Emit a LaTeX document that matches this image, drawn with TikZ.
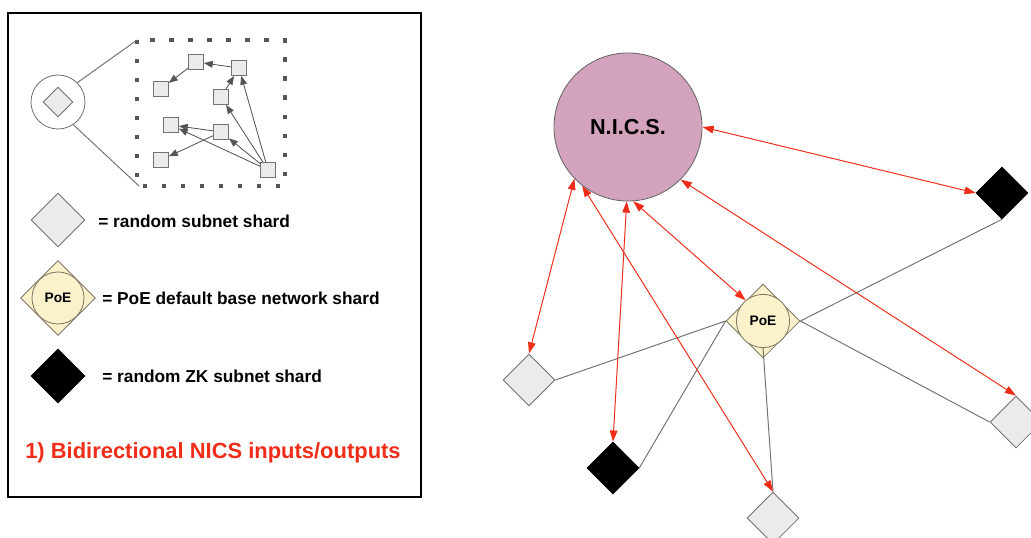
\documentclass[tikz,border=0pt]{standalone}
\usepackage{fontspec}
\setmainfont{Liberation Sans}
\usetikzlibrary{positioning,arrows.meta,shapes.geometric}
\definecolor{shardgray}{RGB}{235,235,235}
\definecolor{edgegray}{RGB}{115,115,115}
\definecolor{poeyellow}{RGB}{251,242,204}
\definecolor{poeedge}{RGB}{125,120,100}
\definecolor{nicspink}{RGB}{211,163,189}
\definecolor{iored}{RGB}{240,45,25}
\definecolor{dotgray}{RGB}{85,85,85}
\tikzset{
  shard/.style={diamond, draw=edgegray, fill=shardgray, line width=0.6pt, minimum size=1.3cm, inner sep=0pt},
  zkshard/.style={diamond, draw=black, fill=black, minimum size=1.3cm, inner sep=0pt},
  poediamond/.style={diamond, draw=poeedge, fill=poeyellow, line width=0.6pt, minimum size=1.85cm, inner sep=0pt},
  poecircle/.style={circle, draw=poeedge, fill=poeyellow, line width=0.6pt, minimum size=1.33cm, inner sep=0pt,
                    font=\fontsize{9.8}{11}\selectfont\bfseries},
  nicscircle/.style={circle, draw=gray!80!black, fill=nicspink, line width=0.6pt, minimum size=3.7cm,
                     font=\fontsize{15.4}{18}\selectfont\bfseries},
  mini/.style={rectangle, draw=edgegray, fill=shardgray, line width=0.6pt, minimum size=0.375cm, inner sep=0pt},
  minilink/.style={->, draw=dotgray, line width=0.6pt, >={Triangle[length=0.22cm, width=0.17cm]}},
  link/.style={draw=edgegray, line width=0.7pt},
  io/.style={<->, draw=iored, line width=0.7pt, >={Triangle[length=0.28cm, width=0.19cm]}},
  legtext/.style={anchor=west, inner sep=0pt, font=\fontsize{12.3}{14}\selectfont\bfseries},
}

\begin{document}
\begin{tikzpicture}[x=0.025cm, y=-0.025cm]
  \useasboundingbox (0,0) rectangle (1031,538);

  % legend panel
  \draw[line width=2pt] (8,13) rectangle (421,497);
  \node[circle, draw=edgegray, line width=0.6pt, minimum size=1.35cm] (icon) at (58,102) {};
  \node[shard, minimum size=0.75cm] (icond) at (58,102) {};
  \draw[dotgray, line width=0.11cm, dash pattern=on 0.11cm off 0.365cm] (137,40) rectangle (285,186);
  \coordinate (boxtl) at (137,40);
  \coordinate (boxbl) at (139,186);
  \draw[link] (icon.45) -- (boxtl);
  \draw[link] (icon.-56) -- (boxbl);

  \node[mini] (s1) at (196,62) {};
  \node[mini] (s2) at (239,68) {};
  \node[mini] (s3) at (161,89) {};
  \node[mini] (s4) at (221,97) {};
  \node[mini] (s5) at (171,125) {};
  \node[mini] (s6) at (221,132) {};
  \node[mini] (s7) at (161,160) {};
  \node[mini] (s8) at (268,170) {};
  \draw[minilink] (s2) -- (s1);
  \draw[minilink] (s1) -- (s3);
  \draw[minilink] (s4) -- (s2);
  \draw[minilink] (s8) -- (s2);
  \draw[minilink] (s8) -- (s4);
  \draw[minilink] (s8) -- (s6);
  \draw[minilink] (s8) -- (s5);
  \draw[minilink] (s6) -- (s5);
  \draw[minilink] (s6) -- (s7);

  \node[shard, minimum size=1.35cm] (leg1) at (58,220) {};
  \node[legtext] (leg1t) at (98,221) {= random subnet shard};
  \node[poediamond, minimum size=1.875cm] (leg2) at (58,298) {};
  \node[poecircle, minimum size=1.3cm] (leg2c) at (58,298) {PoE};
  \node[legtext] (leg2t) at (102,298) {= PoE default base network shard};
  \node[zkshard, minimum size=1.35cm] (leg3) at (58,376) {};
  \node[legtext] (leg3t) at (102,376) {= random ZK subnet shard};
  \node[anchor=west, inner sep=0pt, text=iored, font=\fontsize{15.6}{18}\selectfont\bfseries] (caption) at (25,453)
    {1) Bidirectional NICS inputs/outputs};

  % network
  \node[nicscircle] (nics) at (628,127) {N.I.C.S.};
  \node[zkshard] (zr) at (1002,193) {};
  \node[poediamond] (poe) at (763,321) {};
  \node[poecircle] (poec) at (763,321) {PoE};
  \node[shard] (lg) at (529,380) {};
  \node[zkshard] (zb) at (613,468) {};
  \node[shard] (bg) at (773,518) {};
  \node[shard] (rg) at (1016,422) {};

  \draw[link] (poe.east) -- (zr.south);
  \draw[link] (poe.east) -- (rg.west);
  \draw[link] (poe.west) -- (lg.east);
  \draw[link] (poe.west) -- (zb.east);
  \draw[link] (poec.south) -- (bg.north);

  \draw[io] (nics.224) -- (lg.north);
  \draw[io] (nics.232) -- (bg.north);
  \draw[io] (nics.269) -- (zb.north);
  \draw[io] (nics.274) -- (poec.130);
  \draw[io] (nics.315) -- (rg.north);
  \draw[io] (nics.0) -- (zr.west);
\end{tikzpicture}
\end{document}
